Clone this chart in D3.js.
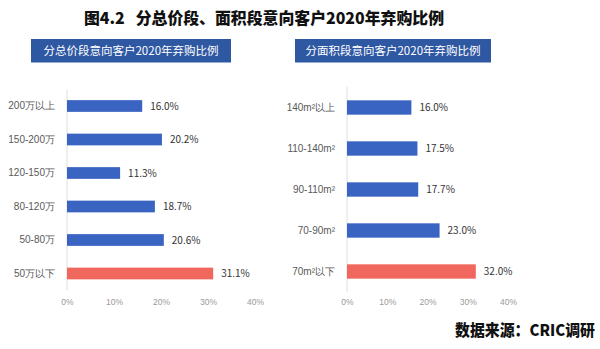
<!DOCTYPE html>
<html><head><meta charset="utf-8">
<script src="https://cdn.jsdelivr.net/npm/d3@7"></script>
<style>
html,body{margin:0;padding:0;background:#fff;}
svg{display:block;font-family:"Noto Sans CJK SC","Noto Sans",sans-serif;}
</style></head>
<body><svg id="c" width="600" height="349"></svg>
<script>
const chartTitle = "图4.2   分总价段、面积段意向客户2020年弃购比例";
const sourceNote = "数据来源：CRIC调研";
const priceTitle = "分总价段意向客户2020年弃购比例";
const priceCategories = ["200万以上","150-200万","120-150万","80-120万","50-80万","50万以下"];
const priceValues = [16.0, 20.2, 11.3, 18.7, 20.6, 31.1];
const areaTitle = "分面积段意向客户2020年弃购比例";
const areaCategories = ["140m²以上","110-140m²","90-110m²","70-90m²","70m²以下"];
const areaValues = [16.0, 17.5, 17.7, 23.0, 32.0];
const xTicks = [0, 10, 20, 30, 40];
const highlightCategories = ["50万以下","70m²以下"];

const svg = d3.select("#c");
const BLUE = "#3a64c2", RED = "#f0675d", BOX = "#2f58a3";

svg.append("text").attr("x", 264).attr("y", 23.5).attr("text-anchor","middle")
  .attr("font-size", 16).attr("font-weight", 900).attr("fill","#111")
  .attr("textLength", 360).attr("lengthAdjust","spacingAndGlyphs")
  .attr("xml:space","preserve").text(chartTitle);

svg.append("text").attr("x", 595).attr("y", 336).attr("text-anchor","end")
  .attr("font-size", 15.5).attr("font-weight", 900).attr("fill","#111")
  .attr("textLength", 140).attr("lengthAdjust","spacingAndGlyphs")
  .text(sourceNote);

function panel(cfg){
  const g = svg.append("g");
  g.append("rect").attr("x", cfg.box[0]).attr("y", 39).attr("width", cfg.box[1]-cfg.box[0]).attr("height", 23.5)
    .attr("fill", BOX);
  g.append("text").attr("x", (cfg.box[0]+cfg.box[1])/2).attr("y", 55).attr("text-anchor","middle")
    .attr("font-size", 11.5).attr("fill","#fff").text(cfg.title);

  const x = d3.scaleLinear().domain([0,40]).range(cfg.xr);
  const y = d3.scaleBand().domain(cfg.cats).range(cfg.yr).paddingInner(0.65).paddingOuter(0.325);

  g.append("line").attr("x1", x(0)).attr("x2", x(0)).attr("y1", cfg.yr[0]).attr("y2", cfg.yr[1])
    .attr("stroke","#dedede").attr("stroke-width",1);

  const xa = d3.axisBottom(x).tickValues(xTicks).tickFormat(d => d + "%").tickSize(0).tickPadding(0);
  const ax = g.append("g").attr("transform", `translate(0,${cfg.tickY})`).call(xa);
  ax.select(".domain").remove();
  ax.selectAll("text").attr("font-size", 8.5).attr("fill","#9a9a9a").attr("font-family","inherit");

  const ya = d3.axisLeft(y).tickSize(0).tickPadding(0);
  const ay = g.append("g").attr("transform", `translate(${cfg.labelX},0)`).call(ya);
  ay.select(".domain").remove();
  ay.selectAll("text").attr("font-size", 10).attr("fill","#595959").attr("font-family","inherit");

  const data = cfg.cats.map((c,i)=>({c, v: cfg.vals[i]}));
  g.selectAll("rect.bar").data(data).join("rect").attr("class","bar")
    .attr("x", x(0)).attr("y", d => y(d.c)).attr("width", d => x(d.v)-x(0)).attr("height", y.bandwidth())
    .attr("fill", d => highlightCategories.includes(d.c) ? RED : BLUE);
  g.selectAll("text.val").data(data).join("text").attr("class","val")
    .attr("x", d => x(d.v) + 8).attr("y", d => y(d.c) + y.bandwidth()/2).attr("dy","0.36em")
    .attr("font-size", 10).attr("fill","#333").text(d => d.v.toFixed(1) + "%");
}

panel({title: priceTitle, cats: priceCategories, vals: priceValues, box:[31,231],
  xr:[67,255], yr:[89.25,290.25], tickY:299, labelX:55});
panel({title: areaTitle, cats: areaCategories, vals: areaValues, box:[295,491],
  xr:[347,508], yr:[87,292], tickY:299, labelX:335});
</script></body></html>
